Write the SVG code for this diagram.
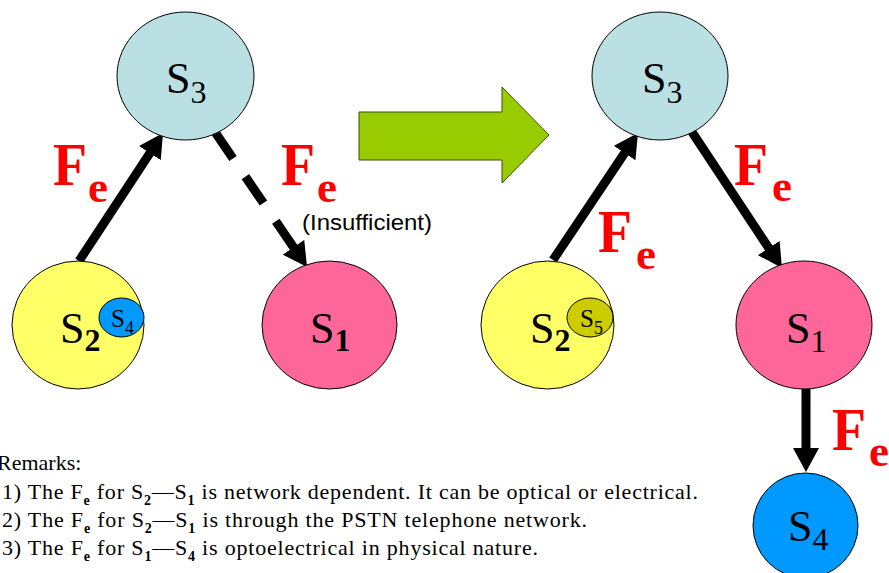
<svg xmlns="http://www.w3.org/2000/svg" width="889" height="573" viewBox="0 0 889 573">
<style>
.nd{stroke:#000;stroke-width:1}
.s{font-family:"Liberation Serif","Times New Roman",serif;font-size:44px;fill:#000}
.sub{font-size:32px}
.b{font-weight:bold}
.ss{font-family:"Liberation Serif","Times New Roman",serif;font-size:25px;fill:#000}
.ssub{font-size:18px}
.F{font-family:"Liberation Serif","Times New Roman",serif;font-weight:bold;fill:#FF0000;font-size:62px}
.Fe{font-family:"Liberation Serif","Times New Roman",serif;font-weight:bold;fill:#FF0000;font-size:45px}
.con{stroke:#000;stroke-width:9;fill:none}
.rm{font-family:"Liberation Serif","Times New Roman",serif;font-size:22px;fill:#000}
.rs{font-size:14px;font-weight:bold}
.lbl{font-family:"Liberation Sans",Arial,sans-serif;font-size:22px;fill:#000}
</style>
<defs>
<marker id="ah" viewBox="0 0 24 26" refX="3" refY="13" markerWidth="24" markerHeight="26" markerUnits="userSpaceOnUse" orient="auto">
<path d="M0,0 L24,13 L0,26 Z" fill="#000"/>
</marker>
</defs>
<rect width="889" height="573" fill="#fff"/>

<g id="connectors">
<line class="con" x1="79" y1="261" x2="151.5" y2="150.6" marker-end="url(#ah)"/>
<line class="con" x1="215" y1="132" x2="295.2" y2="249.7" stroke-dasharray="32 22" marker-end="url(#ah)"/>
<line class="con" x1="553" y1="260" x2="626.3" y2="150.5" marker-end="url(#ah)"/>
<line class="con" x1="692" y1="132" x2="770.4" y2="250.5" marker-end="url(#ah)"/>
<line class="con" x1="806" y1="389" x2="806" y2="451" marker-end="url(#ah)"/>
</g>

<g id="transition-arrow">
<polygon points="359,112 502,112 502,87 549,135 502,183 502,160 359,160" fill="#99CC00" stroke="#3a4d00" stroke-width="1"/>
</g>

<g id="left-S3">
<ellipse class="nd" cx="185.5" cy="76" rx="68.5" ry="64" fill="#BAE0E3"/>
<text class="s" x="166" y="93">S<tspan class="sub" dy="10">3</tspan></text>
</g>
<g id="left-S2">
<ellipse class="nd" cx="78" cy="325" rx="66" ry="64" fill="#FFFF66"/>
<text class="s" x="60" y="343">S<tspan class="sub b" dy="8">2</tspan></text>
</g>
<g id="left-S4-inner">
<ellipse class="nd" cx="121.5" cy="317.5" rx="22.5" ry="19.5" fill="#0099FF"/>
<text class="ss" x="111" y="327">S<tspan class="ssub" dy="7">4</tspan></text>
</g>
<g id="left-S1">
<ellipse class="nd" cx="329.5" cy="325" rx="67.5" ry="64" fill="#FF6699"/>
<text class="s" x="310" y="343">S<tspan class="sub b" dy="8">1</tspan></text>
</g>

<g id="right-S3">
<ellipse class="nd" cx="660" cy="76" rx="68" ry="64" fill="#BAE0E3"/>
<text class="s" x="642" y="93">S<tspan class="sub" dy="10">3</tspan></text>
</g>
<g id="right-S2">
<ellipse class="nd" cx="547.5" cy="325" rx="66.5" ry="64" fill="#FFFF66"/>
<text class="s" x="530" y="343">S<tspan class="sub b" dy="8">2</tspan></text>
</g>
<g id="right-S5-inner">
<ellipse class="nd" cx="590" cy="317.5" rx="23" ry="19.5" fill="#CCCC00"/>
<text class="ss" x="580" y="327">S<tspan class="ssub" dy="7">5</tspan></text>
</g>
<g id="right-S1">
<ellipse class="nd" cx="804" cy="325" rx="68" ry="64" fill="#FF6699"/>
<text class="s" x="786" y="343">S<tspan class="sub" dy="9">1</tspan></text>
</g>
<g id="right-S4">
<ellipse class="nd" cx="805.5" cy="525.5" rx="52.5" ry="52.5" fill="#0099FF"/>
<text class="s" x="788" y="541">S<tspan class="sub" dy="9">4</tspan></text>
</g>

<g id="labels">
<text class="F" x="53" y="185" textLength="34" lengthAdjust="spacingAndGlyphs">F</text>
<text class="Fe" x="88" y="202">e</text>
<text class="F" x="281" y="185" textLength="34" lengthAdjust="spacingAndGlyphs">F</text>
<text class="Fe" x="317" y="202">e</text>
<text class="lbl" x="302" y="230" textLength="130" lengthAdjust="spacingAndGlyphs">(Insufficient)</text>
<text class="F" x="734" y="185" textLength="34" lengthAdjust="spacingAndGlyphs">F</text>
<text class="Fe" x="772" y="201">e</text>
<text class="F" x="598" y="252" textLength="34" lengthAdjust="spacingAndGlyphs">F</text>
<text class="Fe" x="636" y="269">e</text>
<text class="F" x="832" y="450" textLength="34" lengthAdjust="spacingAndGlyphs">F</text>
<text class="Fe" x="869" y="466">e</text>
</g>

<g id="remarks">
<text class="rm" x="-3" y="470">Remarks:</text>
<text class="rm" x="2" y="499" textLength="696">1) The F<tspan class="rs" dy="6">e</tspan><tspan dy="-6"> for S</tspan><tspan class="rs" dy="6">2</tspan><tspan dy="-6">—S</tspan><tspan class="rs" dy="6">1</tspan><tspan dy="-6"> is network dependent. It can be optical or electrical.</tspan></text>
<text class="rm" x="2" y="527" textLength="585">2) The F<tspan class="rs" dy="6">e</tspan><tspan dy="-6"> for S</tspan><tspan class="rs" dy="6">2</tspan><tspan dy="-6">—S</tspan><tspan class="rs" dy="6">1</tspan><tspan dy="-6"> is through the PSTN telephone network.</tspan></text>
<text class="rm" x="2" y="555" textLength="536">3) The F<tspan class="rs" dy="6">e</tspan><tspan dy="-6"> for S</tspan><tspan class="rs" dy="6">1</tspan><tspan dy="-6">—S</tspan><tspan class="rs" dy="6">4</tspan><tspan dy="-6"> is optoelectrical in physical nature.</tspan></text>
</g>
</svg>
